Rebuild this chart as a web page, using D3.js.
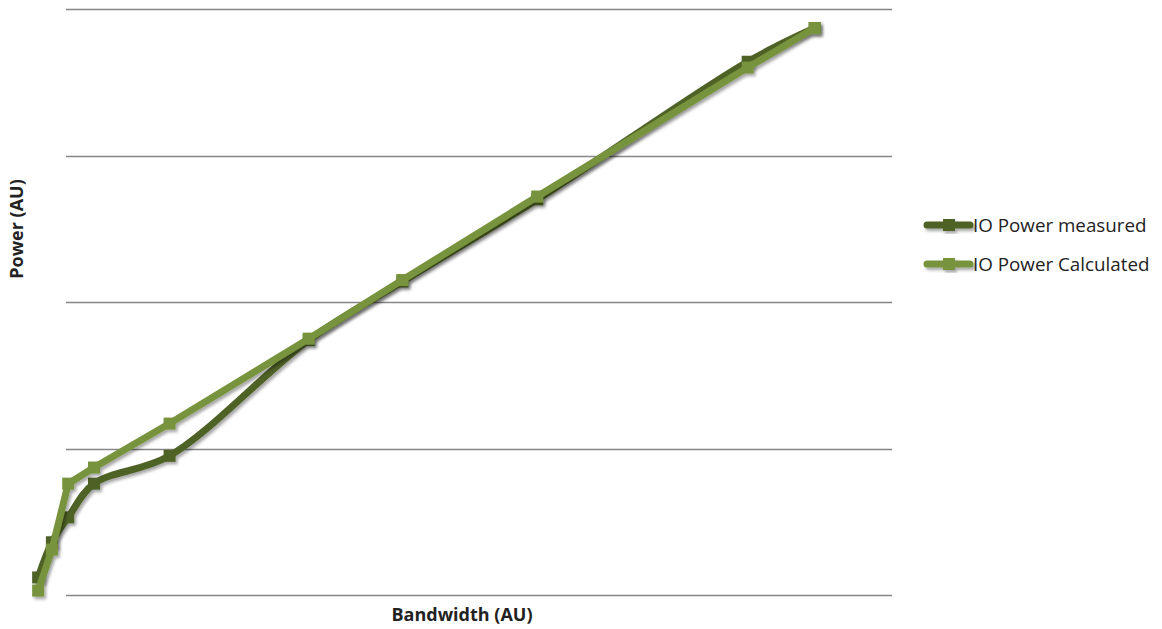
<!DOCTYPE html>
<html><head><meta charset="utf-8">
<script src="https://cdn.jsdelivr.net/npm/d3@7"></script>
<style>body{margin:0;background:#fff}svg{display:block}</style>
</head><body>
<svg id="chart" width="1162" height="629"></svg>
<script>
const seriesNames = ["IO Power measured", "IO Power Calculated"];
const bandwidth = [0.6, 2.2, 4.1, 7.1, 15.9, 32.1, 43.0, 58.7, 83.2, 91.0];
const measured   = [0.12, 0.36, 0.53, 0.76, 0.95, 1.74, 2.14, 2.70, 3.64, 3.87];
const calculated = [0.03, 0.31, 0.76, 0.87, 1.17, 1.75, 2.15, 2.72, 3.60, 3.87];
const yTicks = [0, 1, 2, 3, 4];
const colors = ["#4f6228", "#77933c"];
const xTitle = "Bandwidth (AU)", yTitle = "Power (AU)";

const svg = d3.select("#chart");
const defs = svg.append("defs");
const f = defs.append("filter").attr("id","sh").attr("x","-20%").attr("y","-20%").attr("width","140%").attr("height","140%");
f.append("feDropShadow").attr("dx",2).attr("dy",2.5).attr("stdDeviation",1.8).attr("flood-color","#000").attr("flood-opacity",0.35);

const pLeft = 33, pRight = 892, pTop = 9, pBottom = 595;
const x = d3.scaleLinear().domain([0, 100]).range([pLeft, pRight]);
const y = d3.scaleLinear().domain([0, 4]).range([pBottom, pTop]);

svg.append("g").selectAll("line").data(yTicks).join("line")
  .attr("x1", pLeft + 33).attr("x2", pRight)
  .attr("y1", d => Math.round(y(d)) + 0.5).attr("y2", d => Math.round(y(d)) + 0.5)
  .attr("stroke", "#868686").attr("stroke-width", 1.3);

const data = [measured, calculated];
const curves = [d3.curveCatmullRom.alpha(0.5), d3.curveLinear];
data.forEach((vals, i) => {
  const pts = bandwidth.map((b, j) => [b, vals[j]]);
  const g = svg.append("g").attr("filter", "url(#sh)");
  g.append("path").datum(pts)
    .attr("d", d3.line().x(d => x(d[0])).y(d => y(d[1])).curve(curves[i]))
    .attr("fill", "none").attr("stroke", colors[i]).attr("stroke-width", 7)
    .attr("stroke-linejoin", "round");
  g.selectAll("rect").data(pts).join("rect")
    .attr("x", d => x(d[0]) - 6).attr("y", d => y(d[1]) - 6)
    .attr("width", 12).attr("height", 12).attr("fill", colors[i]);
});

svg.append("text").attr("x", 462).attr("y", 621).attr("text-anchor", "middle")
  .attr("font-family", "'Open Sans', sans-serif").attr("font-weight", "bold").attr("font-size", 18)
  .attr("fill", "#222").text(xTitle);
svg.append("text").attr("transform", "translate(23,229) rotate(-90)").attr("text-anchor", "middle")
  .attr("font-family", "'Open Sans', sans-serif").attr("font-weight", "bold").attr("font-size", 18)
  .attr("fill", "#222").text(yTitle);

const leg = svg.append("g");
seriesNames.forEach((n, i) => {
  const ly = 225 + i * 39;
  const lg = leg.append("g").attr("filter", "url(#sh)");
  lg.append("line").attr("x1", 927).attr("x2", 970).attr("y1", ly).attr("y2", ly)
    .attr("stroke", colors[i]).attr("stroke-width", 7).attr("stroke-linecap", "round");
  lg.append("rect").attr("x", 943).attr("y", ly - 6).attr("width", 12).attr("height", 12).attr("fill", colors[i]);
  leg.append("text").attr("x", 973).attr("y", ly + 7)
    .attr("font-family", "'Open Sans', sans-serif").attr("font-size", 18.8).attr("fill", "#222").text(n);
});
</script>
</body></html>
